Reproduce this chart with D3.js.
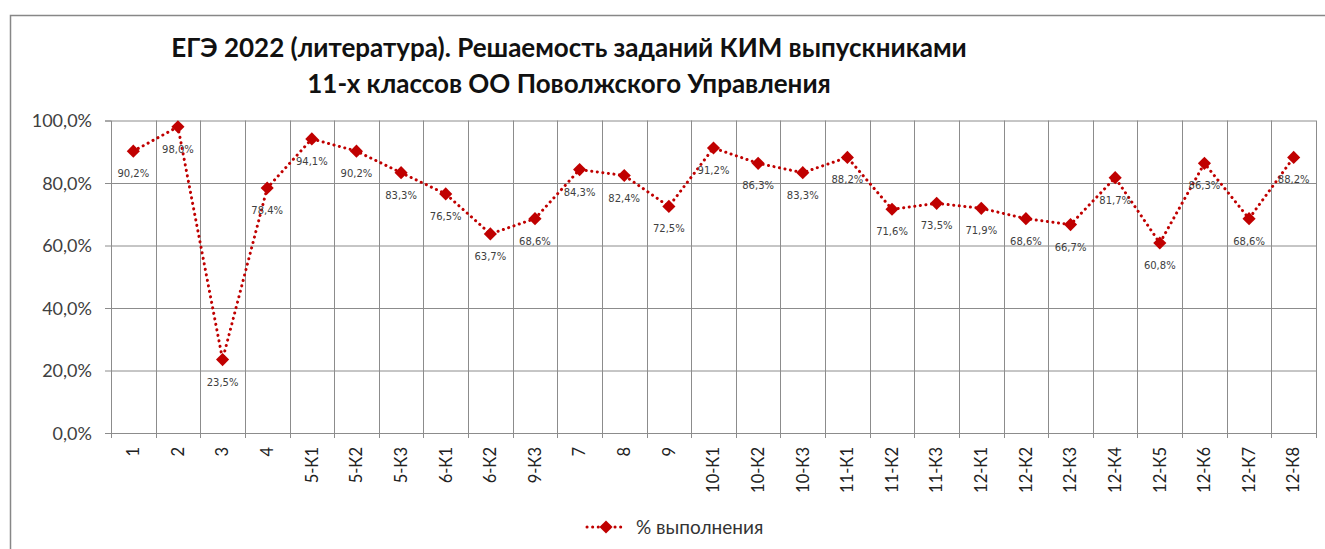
<!DOCTYPE html>
<html>
<head>
<meta charset="utf-8">
<script src="https://cdn.jsdelivr.net/npm/d3@7"></script>
<style>
  body { margin: 0; background: #fff; }
  svg { display: block; }
</style>
</head>
<body>
<script>
// данные диаграммы
const categories = ['1', '2', '3', '4', '5-К1', '5-К2', '5-К3', '6-К1', '6-К2', '9-К3', '7', '8', '9',
  '10-К1', '10-К2', '10-К3', '11-К1', '11-К2', '11-К3', '12-К1', '12-К2', '12-К3', '12-К4', '12-К5',
  '12-К6', '12-К7', '12-К8']
const values = [90.2, 98.0, 23.5, 78.4, 94.1, 90.2, 83.3, 76.5, 63.7, 68.6, 84.3, 82.4, 72.5,
  91.2, 86.3, 83.3, 88.2, 71.6, 73.5, 71.9, 68.6, 66.7, 81.7, 60.8, 86.3, 68.6, 88.2]
const yTicks = [0, 20, 40, 60, 80, 100]
const titleLines = ['ЕГЭ 2022 (литература). Решаемость заданий КИМ выпускниками',
  '11-х классов ОО Поволжского Управления']
const seriesName = '% выполнения'

const W = 1325, H = 549
const plot = { left: 111, right: 1316, top: 120.5, bottom: 433 }
const red = '#c00000'
const grid = '#8c8c8c'
const fmt = v => v.toFixed(1).replace('.', ',') + '%'

const svg = d3.select('body').append('svg')
  .attr('width', W)
  .attr('height', H)

// рамка области диаграммы
svg.append('rect')
  .attr('x', 10.5).attr('y', 15.5)
  .attr('width', W + 20).attr('height', H + 20)
  .attr('fill', 'none')
  .attr('stroke', '#878787')
  .attr('stroke-width', 1.5)

// заголовок
svg.append('g').selectAll('text')
  .data(titleLines)
  .join('text')
  .attr('x', 569)
  .attr('y', (d, i) => 57 + i * 36)
  .attr('text-anchor', 'middle')
  .style('font-family', 'Lato, Carlito, sans-serif')
  .style('font-weight', 'bold')
  .style('font-size', '26px')
  .attr('fill', '#111')
  .text(d => d)

const x = d3.scaleBand()
  .domain(categories)
  .range([plot.left, plot.right])

const y = d3.scaleLinear()
  .domain([0, 100])
  .range([plot.bottom, plot.top])

// сетка
svg.append('g')
  .attr('transform', `translate(${plot.left},0)`)
  .call(d3.axisLeft(y).tickValues(yTicks).tickSize(-(plot.right - plot.left)).tickFormat(''))
  .call(g => g.select('.domain').remove())
  .call(g => g.selectAll('line').attr('stroke', grid))

svg.append('g')
  .selectAll('line')
  .data(categories)
  .join('line')
  .attr('x1', (d, i) => Math.round(plot.left + x.step() * (i + 1)) + 0.5)
  .attr('x2', (d, i) => Math.round(plot.left + x.step() * (i + 1)) + 0.5)
  .attr('y1', plot.top)
  .attr('y2', plot.bottom + 5)
  .attr('stroke', grid)

// ось Y
const yAxis = svg.append('g')
  .attr('transform', `translate(${plot.left},0)`)
  .call(d3.axisLeft(y).tickValues(yTicks).tickSize(6).tickPadding(13).tickFormat(d => d.toFixed(1).replace('.', ',') + '%'))
yAxis.select('.domain').attr('stroke', grid)
yAxis.selectAll('line').attr('stroke', grid)
yAxis.selectAll('text')
  .style('font-family', 'Lato, Carlito, sans-serif')
  .style('font-size', '18px')
  .attr('fill', '#404040')
  .attr('dy', '0.35em')

// ось X
const xAxis = svg.append('g')
  .attr('transform', `translate(0,${plot.bottom})`)
  .call(d3.axisBottom(x).tickSize(0).tickPadding(0))
xAxis.select('.domain').attr('stroke', grid).attr('d', `M${plot.left},0.5H${plot.right}`)
xAxis.selectAll('.tick text')
  .attr('transform', 'rotate(-90)')
  .attr('x', -14)
  .attr('y', 0)
  .attr('dy', '0.35em')
  .attr('text-anchor', 'end')
  .style('font-family', 'Lato, Carlito, sans-serif')
  .style('font-size', '16.5px')
  .attr('fill', '#222')

svg.append('line')
  .attr('x1', plot.left + 0.5).attr('x2', plot.left + 0.5)
  .attr('y1', plot.bottom).attr('y2', plot.bottom + 5)
  .attr('stroke', grid)

// линия ряда
const cx = d => x(d) + x.bandwidth() / 2
const line = d3.line()
  .x((d, i) => cx(categories[i]))
  .y(d => y(d))

svg.append('path')
  .datum(values)
  .attr('d', line)
  .attr('fill', 'none')
  .attr('stroke', red)
  .attr('stroke-width', 3)
  .attr('stroke-linecap', 'round')
  .attr('stroke-dasharray', '0.1 5.5')

// маркеры
const diamond = d3.symbol().type(d3.symbolDiamond2).size(110)
svg.append('g').selectAll('path')
  .data(values)
  .join('path')
  .attr('transform', (d, i) => `translate(${cx(categories[i])},${y(d)})`)
  .attr('d', diamond)
  .attr('fill', red)

// подписи данных
svg.append('g').selectAll('text')
  .data(values)
  .join('text')
  .attr('x', (d, i) => cx(categories[i]))
  .attr('y', d => y(d) + 26)
  .attr('text-anchor', 'middle')
  .style('font-family', '"DejaVu Sans", Verdana, sans-serif')
  .style('font-size', '10px')
  .attr('fill', '#404040')
  .text(d => fmt(d))

// легенда
const legend = svg.append('g').attr('transform', 'translate(587,527)')
legend.append('line')
  .attr('x1', 0).attr('x2', 38)
  .attr('stroke', red)
  .attr('stroke-width', 3)
  .attr('stroke-linecap', 'round')
  .attr('stroke-dasharray', '0.1 5.5')
legend.append('path')
  .attr('transform', 'translate(19,0)')
  .attr('d', diamond)
  .attr('fill', red)
legend.append('text')
  .attr('x', 49)
  .attr('dy', '0.35em')
  .style('font-family', 'Lato, Carlito, sans-serif')
  .style('font-size', '19px')
  .attr('fill', '#333')
  .text(seriesName)
</script>
</body>
</html>
